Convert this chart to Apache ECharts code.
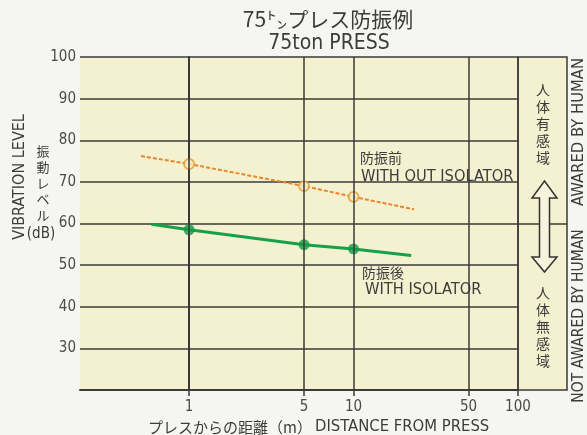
<!DOCTYPE html>
<html>
<head>
<meta charset="utf-8">
<script src="https://cdn.jsdelivr.net/npm/echarts@6/dist/echarts.min.js"></script>
<style>
html,body{margin:0;padding:0;background:#f5f5f2;}
#c{width:587px;height:435px;}
</style>
</head>
<body>
<div id="c"></div>
<script>
// ---- data ----
const distances = [1, 5, 10];                 // m, measured points
const withoutIsolator = [74.3, 69.0, 66.4];   // dB
const withIsolator = [58.5, 54.9, 53.9];      // dB
// drawn trend-line extents (distance, dB)
const withoutLineStart = [0.51, 76.2];
const withoutLineEnd = [23.3, 63.4];
const withLineStart = [0.59, 59.8];
const withLineEnd = [22.4, 52.3];
const xTickValues = [1, 5, 10, 50, 100];
const yTickValues = [30, 40, 50, 60, 70, 80, 90, 100];
const humanThreshold = 60;
const xMinDist = 0.217, xMaxDist = 100;
const yMin = 20, yMax = 100;

const L = Math.log10;
const FONT = "'Liberation Sans Narrow','DejaVu Sans Condensed','Noto Sans CJK JP',sans-serif";
const JFONT = "'Noto Sans CJK JP',sans-serif";
const TXT = '#3c3c3c';
const GRID = '#3a3a3a';

const orangeLine = [withoutLineStart].concat(distances.map((d, i) => [d, withoutIsolator[i]])).concat([withoutLineEnd]).map(p => [L(p[0]), p[1]]);
const greenLine = [withLineStart].concat(distances.map((d, i) => [d, withIsolator[i]])).concat([withLineEnd]).map(p => [L(p[0]), p[1]]);
const orangePts = distances.map((d, i) => [L(d), withoutIsolator[i]]);
const greenPts = distances.map((d, i) => [L(d), withIsolator[i]]);

const chart = echarts.init(document.getElementById('c'), null, {renderer: 'canvas'});

const option = {
  backgroundColor: '#f5f5f2',
  animation: false,
  grid: [
    {left: 80, top: 57, width: 438, height: 333, show: true, backgroundColor: '#f3f1cf', borderWidth: 0},
    {left: 518, top: 57, width: 49, height: 333, show: true, backgroundColor: '#f3f1cf', borderColor: GRID, borderWidth: 1.5}
  ],
  xAxis: [
    {
      type: 'value', gridIndex: 0, min: L(xMinDist), max: L(xMaxDist),
      axisLine: {show: true, lineStyle: {color: GRID, width: 2}},
      axisTick: {show: true, customValues: xTickValues.map(L), length: 6, inside: false, lineStyle: {color: GRID, width: 1.5}},
      axisLabel: {customValues: xTickValues.map(L), formatter: v => String(Math.round(Math.pow(10, v))), color: '#4a4a4a', fontFamily: FONT, fontSize: 15, margin: 10},
      splitLine: {show: false}
    },
    {type: 'value', gridIndex: 1, min: 0, max: 1, show: false}
  ],
  yAxis: [
    {
      type: 'value', gridIndex: 0, min: yMin, max: yMax, interval: 10,
      axisLine: {show: true, lineStyle: {color: GRID, width: 2}},
      axisTick: {show: false},
      axisLabel: {color: '#4a4a4a', fontFamily: FONT, fontSize: 15, margin: 4,
        formatter: v => yTickValues.indexOf(v) >= 0 ? String(v) : ''},
      splitLine: {show: true, lineStyle: {color: GRID, width: 1.5}}
    },
    {type: 'value', gridIndex: 1, min: yMin, max: yMax, show: false}
  ],
  series: [
    {
      type: 'line', xAxisIndex: 0, yAxisIndex: 0, data: [], silent: true, z: 1,
      markLine: {symbol: 'none', silent: true, label: {show: false},
        lineStyle: {color: GRID, width: 1.5, type: 'solid'},
        data: xTickValues.map(v => ({xAxis: L(v)}))}
    },
    {
      type: 'line', xAxisIndex: 1, yAxisIndex: 1, data: [], silent: true, z: 1,
      markLine: {symbol: 'none', silent: true, label: {show: false},
        lineStyle: {color: GRID, width: 1.5, type: 'solid'},
        data: [{yAxis: humanThreshold}]}
    },
    {
      name: 'WITH OUT ISOLATOR', type: 'line', data: orangeLine, showSymbol: false, symbol: 'none', z: 3,
      lineStyle: {color: '#e8862c', width: 2, type: [4, 2]}
    },
    {
      name: 'WITH ISOLATOR', type: 'line', data: greenLine, showSymbol: false, symbol: 'none', z: 3,
      lineStyle: {color: '#17a04a', width: 3}
    },
    {
      type: 'scatter', data: orangePts, symbol: 'circle', symbolSize: 10, z: 4,
      itemStyle: {color: '#f4efcf', borderColor: '#e39a2e', borderWidth: 1.8}
    },
    {
      type: 'scatter', data: greenPts, symbol: 'circle', symbolSize: 11, z: 4,
      itemStyle: {color: '#159a45'}
    }
  ],
  graphic: [
    {type: 'text', x: 328, y: 9, style: {text: '75㌧プレス防振例', font: "21px " + JFONT, fill: TXT, textAlign: 'center'}},
    {type: 'text', x: 329, y: 33, style: {text: '75ton PRESS', font: "21px " + FONT, fill: TXT, textAlign: 'center'}},
    // y axis titles
    {type: 'text', x: 20, y: 177, rotation: Math.PI / 2, style: {text: 'VIBRATION LEVEL', font: "16px " + FONT, fill: TXT, textAlign: 'center', textVerticalAlign: 'middle'}},
    {type: 'text', x: 43, y: 143, style: {text: '振\n動\nレ\nベ\nル', font: "13px " + JFONT, fill: TXT, textAlign: 'center', lineHeight: 16}},
    {type: 'text', x: 41, y: 234, style: {text: '(dB)', font: "15px " + FONT, fill: TXT, textAlign: 'center', textVerticalAlign: 'middle'}},
    // x axis title
    {type: 'text', x: 148, y: 427, style: {text: 'プレスからの距離（m）', font: "15px " + JFONT, fill: TXT, textVerticalAlign: 'middle'}},
    {type: 'text', x: 315, y: 427, style: {text: 'DISTANCE FROM PRESS', font: "16.5px " + FONT, fill: TXT, textVerticalAlign: 'middle'}},
    // series annotations
    {type: 'text', x: 360, y: 158, style: {text: '防振前', font: "14px " + JFONT, fill: TXT, textVerticalAlign: 'middle'}, z: 10},
    {type: 'text', x: 361, y: 177, style: {text: 'WITH OUT ISOLATOR', font: "16.3px " + FONT, fill: TXT, textVerticalAlign: 'middle'}, z: 10},
    {type: 'text', x: 362, y: 273, style: {text: '防振後', font: "14px " + JFONT, fill: TXT, textVerticalAlign: 'middle'}, z: 10},
    {type: 'text', x: 365, y: 290, style: {text: 'WITH ISOLATOR', font: "16.3px " + FONT, fill: TXT, textVerticalAlign: 'middle'}, z: 10},
    // right panel
    {type: 'text', x: 543, y: 81, style: {text: '人\n体\n有\n感\n域', font: "14px " + JFONT, fill: TXT, textAlign: 'center', lineHeight: 17}, z: 10},
    {type: 'text', x: 543, y: 284, style: {text: '人\n体\n無\n感\n域', font: "14px " + JFONT, fill: TXT, textAlign: 'center', lineHeight: 17}, z: 10},
    {type: 'polygon', z: 10, shape: {points: [
      [544.5, 181], [557, 198], [549.5, 198], [549.5, 257], [557, 257], [544.5, 272],
      [532, 257], [539.5, 257], [539.5, 198], [532, 198]
    ]}, style: {fill: '#f6f4dc', stroke: '#333', lineWidth: 1.5}},
    // far right vertical texts
    {type: 'text', x: 579, y: 132, rotation: Math.PI / 2, style: {text: 'AWARED BY HUMAN', font: "16.5px " + FONT, fill: TXT, textAlign: 'center', textVerticalAlign: 'middle'}},
    {type: 'text', x: 579, y: 316, rotation: Math.PI / 2, style: {text: 'NOT AWARED BY HUMAN', font: "15.5px " + FONT, fill: TXT, textAlign: 'center', textVerticalAlign: 'middle'}}
  ]
};
chart.setOption(option);
</script>
</body>
</html>
